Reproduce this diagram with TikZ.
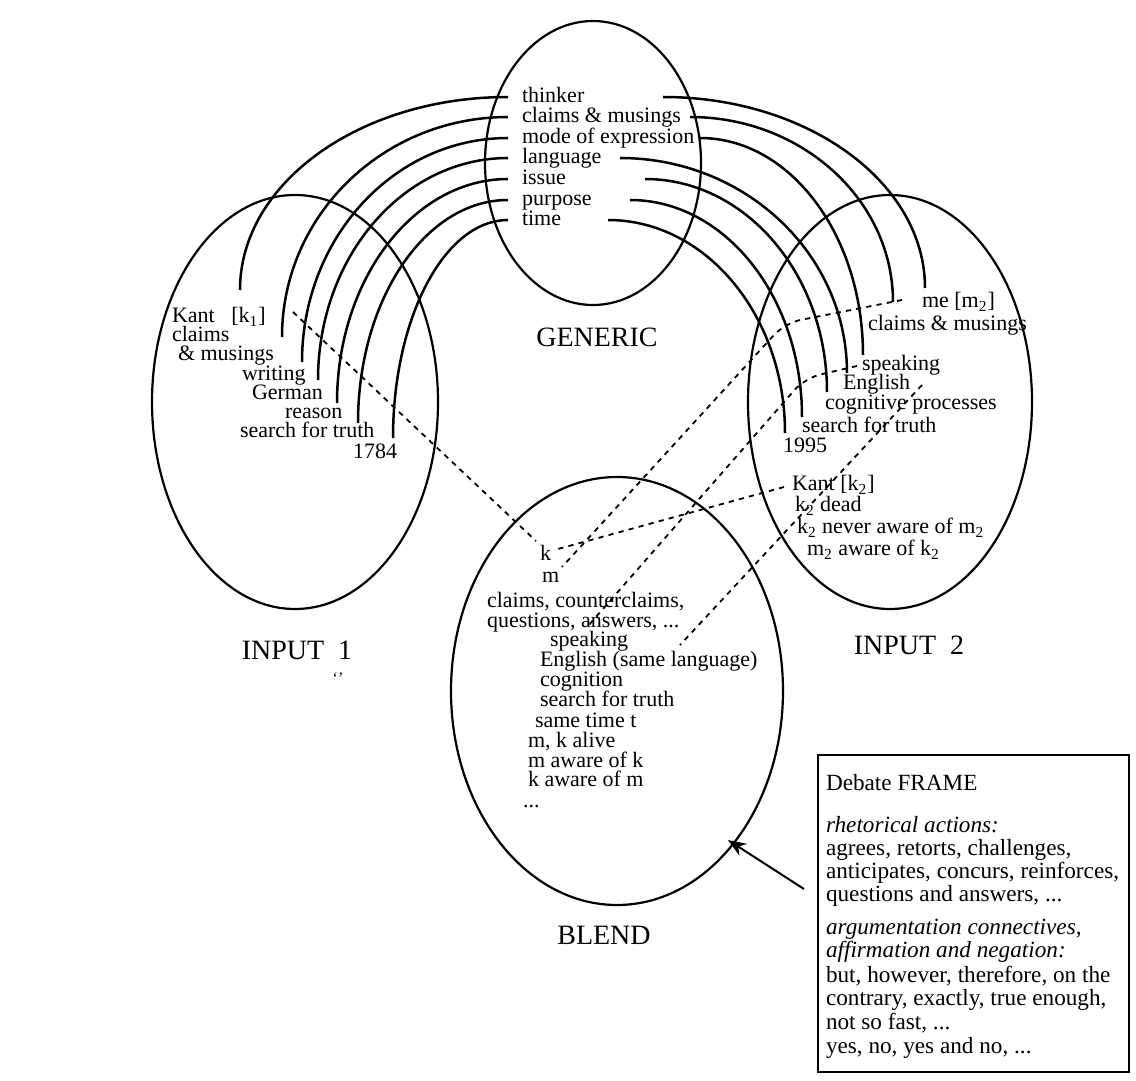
\documentclass[tikz,border=0pt]{standalone}
\usepackage{fontspec}
\setmainfont{Liberation Serif}
\usetikzlibrary{shapes.geometric,arrows.meta}
\begin{document}
\begin{tikzpicture}[x=0.5pt,y=-0.5pt,
  every node/.style={inner sep=0pt, outer sep=0pt},
  lbl/.style={anchor=west, font=\fontsize{11}{11.5}\selectfont, text height=1.5ex, text depth=.25ex},
  ttl/.style={font=\fontsize{14}{16}\selectfont},
  frametxt/.style={anchor=west, font=\fontsize{11.6}{12}\selectfont, text height=1.5ex, text depth=.25ex},
  oval/.style={draw, ellipse, line width=1.1pt},
  arcline/.style={line width=1.25pt},
  corr/.style={dash pattern=on 2.6pt off 2.6pt, line width=0.9pt},
]
\useasboundingbox (0,0) rectangle (1136,1081);
\fill[white] (0,0) rectangle (1136,1081);

% ellipses
\node[oval, minimum width=108pt, minimum height=142pt] (generic) at (593,163) {};
\node[oval, minimum width=143pt, minimum height=207pt] (input1) at (295,402) {};
\node[oval, minimum width=142pt, minimum height=207pt] (input2) at (890,402) {};
\node[oval, minimum width=166pt, minimum height=214pt] (blend) at (617,691) {};

% titles
\node[ttl] (tgen) at (597,337) {GENERIC};
\node[ttl] (tin1) at (297,650) {INPUT\ \ 1};
\node[ttl] (tin2) at (909,645) {INPUT\ \ 2};
\node[ttl] (tbl) at (604,935) {BLEND};
\node[font=\fontsize{8}{9}\selectfont] (speck) at (338,678) {‘’};

% generic labels
\node[lbl] (g1) at (522,97) {thinker};
\node[lbl] (g2) at (522,117) {claims \& musings};
\node[lbl] (g3) at (522,138) {mode of expression};
\node[lbl] (g4) at (522,158) {language};
\node[lbl] (g5) at (522,179) {issue};
\node[lbl] (g6) at (522,200) {purpose};
\node[lbl] (g7) at (522,220) {time};

% input 1 labels
\node[lbl] (a1) at (172,317) {Kant\ \ \ [k\textsubscript{1}]};
\node[lbl] (a2) at (172,336) {claims};
\node[lbl] (a2b) at (178,355) {\& musings};
\node[lbl] (a3) at (242,375) {writing};
\node[lbl] (a4) at (252,394) {German};
\node[lbl] (a5) at (285,413) {reason};
\node[lbl] (a6) at (240,432) {search for truth};
\node[lbl] (a7) at (353,453) {1784};

% input 2 labels
\node[lbl] (b1) at (922,302) {me [m\textsubscript{2}]};
\node[lbl] (b2) at (868,325) {claims \& musings};
\node[lbl] (b3) at (862,365) {speaking};
\node[lbl] (b4) at (843,384) {English};
\node[lbl] (b5) at (825,404) {cognitive processes};
\node[lbl] (b6) at (802,427) {search for truth};
\node[lbl] (b7) at (783,447) {1995};
\node[lbl] (b8) at (792,485) {Kant [k\textsubscript{2}]};
\node[lbl] (b9) at (795,506) {k\textsubscript{2} dead};
\node[lbl] (b10) at (797,528) {k\textsubscript{2} never aware of m\textsubscript{2}};
\node[lbl] (b11) at (807,550) {m\textsubscript{2} aware of k\textsubscript{2}};

% blend labels
\node[lbl] (c1) at (540,555) {k};
\node[lbl] (c2) at (542,577) {m};
\node[lbl] (c3) at (487,602) {claims, counterclaims,};
\node[lbl] (c4) at (487,622) {questions, answers, ...};
\node[lbl] (c5) at (550,641) {speaking};
\node[lbl] (c6) at (540,661) {English (same language)};
\node[lbl] (c7) at (540,681) {cognition};
\node[lbl] (c8) at (540,701) {search for truth};
\node[lbl] (c9) at (535,722) {same time t};
\node[lbl] (c10) at (528,742) {m, k alive};
\node[lbl] (c11) at (528,762) {m aware of k};
\node[lbl] (c12) at (528,781) {k aware of m};
\node[lbl] (c13) at (523,802) {...};

% arc end points
\coordinate (gL1) at (508,97);  \coordinate (iL1) at (240,290);
\coordinate (gL2) at (508,117); \coordinate (iL2) at (282,337);
\coordinate (gL3) at (508,138); \coordinate (iL3) at (302,362);
\coordinate (gL4) at (508,158); \coordinate (iL4) at (318,380);
\coordinate (gL5) at (508,179); \coordinate (iL5) at (337,403);
\coordinate (gL6) at (508,200); \coordinate (iL6) at (358,423);
\coordinate (gL7) at (508,220); \coordinate (iL7) at (393,438);
\coordinate (gR1) at (663,97);  \coordinate (iR1) at (925,288);
\coordinate (gR2) at (690,117); \coordinate (iR2) at (893,302);
\coordinate (gR3) at (700,138); \coordinate (iR3) at (863,355);
\coordinate (gR4) at (620,158); \coordinate (iR4) at (847,373);
\coordinate (gR5) at (645,179); \coordinate (iR5) at (827,392);
\coordinate (gR6) at (630,200); \coordinate (iR6) at (802,417);
\coordinate (gR7) at (608,220); \coordinate (iR7) at (785,433);

% left arcs
\draw[arcline] (gL1) .. controls (360,97) and (240,183) .. (iL1);
\draw[arcline] (gL2) .. controls (383,117) and (282,215.5) .. (iL2);
\draw[arcline] (gL3) .. controls (394,138) and (302,238) .. (iL3);
\draw[arcline] (gL4) .. controls (403,158) and (318,257) .. (iL4);
\draw[arcline] (gL5) .. controls (414,179) and (337,279) .. (iL5);
\draw[arcline] (gL6) .. controls (425,200) and (358,300) .. (iL6);
\draw[arcline] (gL7) .. controls (444.5,220) and (393,318) .. (iL7);

% right arcs
\draw[arcline] (gR1) .. controls (807.7,97) and (925,182.5) .. (iR1);
\draw[arcline] (gR2) .. controls (802,117) and (893,200) .. (iR2);
\draw[arcline] (gR3) .. controls (790,138) and (863,235) .. (iR3);
\draw[arcline] (gR4) .. controls (745,158) and (847,254) .. (iR4);
\draw[arcline] (gR5) .. controls (745.5,179) and (827,274.4) .. (iR5);
\draw[arcline] (gR6) .. controls (725,200) and (802,297) .. (iR6);
\draw[arcline] (gR7) .. controls (705.8,220) and (785,315.4) .. (iR7);

% dashed correspondences
\coordinate (dK1s) at (293,312); \coordinate (dK1e) at (536,541);
\coordinate (dK2s) at (784,487); \coordinate (dK2e) at (558,549);
\coordinate (dMs) at (902,300);  \coordinate (dMb) at (785,323); \coordinate (dMe) at (562,567);
\coordinate (dSs) at (857,366);  \coordinate (dSb) at (805,378); \coordinate (dSe) at (588,626);
\coordinate (dEs) at (922,385);  \coordinate (dEe) at (680,645);
\draw[corr] (dK1s) -- (dK1e);
\draw[corr] (dK2s) -- (dK2e);
\draw[corr, rounded corners=8pt] (dMs) -- (dMb) -- (dMe);
\draw[corr, rounded corners=8pt] (dSs) -- (dSb) -- (dSe);
\draw[corr] (dEs) -- (dEe);

% debate frame
\node[draw, line width=0.9pt, minimum width=155.5pt, minimum height=158.5pt] (frame) at (973.5,913.5) {};
\node[frametxt] (f1) at (826,785) {Debate FRAME};
\node[frametxt] (f2) at (826,827) {\itshape rhetorical actions:};
\node[frametxt] (f3) at (826,850) {agrees, retorts, challenges,};
\node[frametxt] (f4) at (826,873) {anticipates, concurs, reinforces,};
\node[frametxt] (f5) at (826,896) {questions and answers, ...};
\node[frametxt] (f6) at (826,929) {\itshape argumentation connectives,};
\node[frametxt] (f7) at (826,952) {\itshape affirmation and negation:};
\node[frametxt] (f8) at (826,977) {but, however, therefore, on the};
\node[frametxt] (f9) at (826,1000) {contrary, exactly, true enough,};
\node[frametxt] (f10) at (826,1024) {not so fast, ...};
\node[frametxt] (f11) at (826,1048) {yes, no, yes and no, ...};

% arrow
\coordinate (arrtail) at (804,889);
\coordinate (arrtip) at (728,840);
\draw[line width=1pt, -{Stealth[length=9pt,width=7pt]}] (arrtail) -- (arrtip);
\end{tikzpicture}
\end{document}
